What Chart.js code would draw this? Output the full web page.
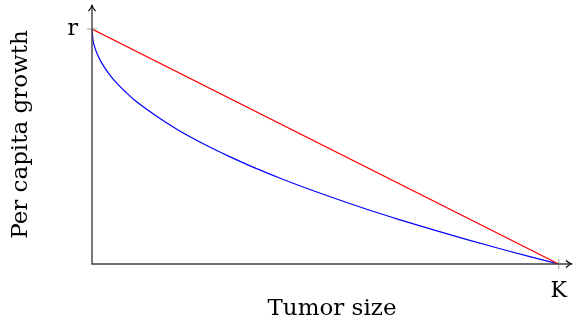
<!DOCTYPE html>
<html>
<head>
<meta charset="utf-8">
<script src="https://cdn.jsdelivr.net/npm/chart.js@4/dist/chart.umd.min.js"></script>
<style>
  html, body { margin: 0; padding: 0; background: #ffffff; }
  #wrap { width: 575px; height: 320px; }
</style>
</head>
<body>
<div id="wrap"><canvas id="c" width="575" height="320"></canvas></div>
<script>
// Tumor size as a fraction of carrying capacity K
const blueSize = [0, 0.002, 0.006, 0.012, 0.02, 0.038, 0.056, 0.074, 0.091, 0.145, 0.188, 0.25, 0.295, 0.35, 0.402, 0.445, 0.509, 0.587, 0.66, 0.73, 0.8, 0.873, 0.94, 1];
// Per capita growth as a fraction of r (blue curve)
const blueGrowth = [1, 0.955, 0.922, 0.89, 0.858, 0.805, 0.763, 0.728, 0.698, 0.62, 0.566, 0.5, 0.457, 0.408, 0.366, 0.333, 0.287, 0.234, 0.188, 0.146, 0.106, 0.066, 0.03, 0];
// Red straight line
const redSize = [0, 1];
const redGrowth = [1, 0];
// Tick labels
const xTickValues = [1];
const xTickLabels = ['K'];
const yTickValues = [1];
const yTickLabels = ['r'];
const xTitle = 'Tumor size';
const yTitle = 'Per capita growth';

const FONT = "'DejaVu Serif', 'Liberation Serif', serif";

const toPts = (xs, ys) => xs.map((x, i) => ({x: x, y: ys[i]}));

const axisPlugin = {
  id: 'axisArrows',
  afterDraw(chart) {
    const ctx = chart.ctx;
    const xs = chart.scales.x, ys = chart.scales.y;
    const x0 = xs.getPixelForValue(0), y0 = ys.getPixelForValue(0);
    const xEnd = chart.chartArea.right, yEnd = chart.chartArea.top;
    ctx.save();
    // tick marks
    ctx.strokeStyle = '#b0b0b0';
    ctx.lineWidth = 1.2;
    yTickValues.forEach(v => {
      const py = ys.getPixelForValue(v);
      ctx.beginPath(); ctx.moveTo(x0 - 5, py); ctx.lineTo(x0 + 5, py); ctx.stroke();
    });
    xTickValues.forEach(v => {
      const px = xs.getPixelForValue(v);
      ctx.beginPath(); ctx.moveTo(px, y0 - 5); ctx.lineTo(px, y0 + 5); ctx.stroke();
    });
    // axes
    ctx.strokeStyle = '#404040';
    ctx.lineWidth = 1.4;
    ctx.beginPath();
    ctx.moveTo(x0, yEnd + 2); ctx.lineTo(x0, y0); ctx.lineTo(xEnd - 2, y0);
    ctx.stroke();
    // arrow heads
    ctx.strokeStyle = '#000';
    ctx.lineWidth = 1.2;
    ctx.lineJoin = 'round';
    ctx.beginPath();
    ctx.moveTo(x0 - 3.5, yEnd + 6); ctx.quadraticCurveTo(x0 - 0.5, yEnd + 3, x0, yEnd); ctx.quadraticCurveTo(x0 + 0.5, yEnd + 3, x0 + 3.5, yEnd + 6);
    ctx.stroke();
    ctx.beginPath();
    ctx.moveTo(xEnd - 6, y0 - 3.5); ctx.quadraticCurveTo(xEnd - 3, y0 - 0.5, xEnd, y0); ctx.quadraticCurveTo(xEnd - 3, y0 + 0.5, xEnd - 6, y0 + 3.5);
    ctx.stroke();
    ctx.restore();
  }
};

new Chart(document.getElementById('c'), {
  type: 'line',
  data: {
    datasets: [
      {
        data: toPts(redSize, redGrowth),
        borderColor: '#ff0000',
        borderWidth: 1.2,
        pointRadius: 0,
        tension: 0,
        order: 1
      },
      {
        data: toPts(blueSize, blueGrowth),
        borderColor: '#0000ff',
        borderWidth: 1.2,
        pointRadius: 0,
        cubicInterpolationMode: 'monotone',
        order: 2
      }
    ]
  },
  options: {
    responsive: false,
    animation: false,
    devicePixelRatio: 1,
    layout: { padding: { left: 0, top: 5, right: 3, bottom: 0 } },
    plugins: { legend: { display: false }, tooltip: { enabled: false } },
    scales: {
      x: {
        type: 'linear',
        min: 0,
        max: 1.0285,
        grid: { display: false, drawTicks: false },
        border: { display: false },
        afterFit: s => { s.height = 56; s.paddingLeft = 0; s.paddingRight = 0; },
        afterBuildTicks: s => { s.ticks = xTickValues.map(v => ({value: v})); },
        ticks: {
          padding: 14,
          color: '#000',
          font: { family: FONT, size: 22 },
          maxRotation: 0,
          autoSkip: false,
          callback: (v) => { const i = xTickValues.indexOf(v); return i >= 0 ? xTickLabels[i] : ''; }
        },
        title: {
          display: true,
          text: xTitle,
          color: '#000',
          font: { family: FONT, size: 23 },
          padding: { top: 0, bottom: -3 }
        }
      },
      y: {
        type: 'linear',
        min: 0,
        max: 1.102,
        grid: { display: false, drawTicks: false },
        border: { display: false },
        afterFit: s => { s.width = 92; s.paddingTop = 0; s.paddingBottom = 0; },
        afterBuildTicks: s => { s.ticks = yTickValues.map(v => ({value: v})); },
        ticks: {
          padding: 14,
          color: '#000',
          font: { family: FONT, size: 22 },
          autoSkip: false,
          callback: (v) => { const i = yTickValues.indexOf(v); return i >= 0 ? yTickLabels[i] : ''; }
        },
        title: {
          display: true,
          text: yTitle,
          color: '#000',
          font: { family: FONT, size: 23 },
          padding: { top: 7, bottom: 0 }
        }
      }
    }
  },
  plugins: [axisPlugin]
});
</script>
</body>
</html>
